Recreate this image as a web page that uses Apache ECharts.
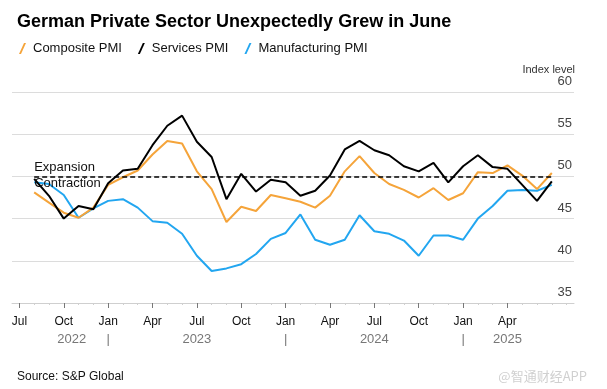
<!DOCTYPE html>
<html>
<head>
<meta charset="utf-8">
<script src="https://cdn.jsdelivr.net/npm/echarts@6/dist/echarts.min.js"></script>
<style>
html,body{margin:0;padding:0;background:#fff;}
#chart{width:607px;height:389px;}
</style>
</head>
<body>
<div id="chart"></div>
<script>
// Data months (monthly PMI readings), plotted at the end of each month
const dataMonths = ['2022-07','2022-08','2022-09','2022-10','2022-11','2022-12',
  '2023-01','2023-02','2023-03','2023-04','2023-05','2023-06','2023-07','2023-08','2023-09','2023-10','2023-11','2023-12',
  '2024-01','2024-02','2024-03','2024-04','2024-05','2024-06','2024-07','2024-08','2024-09','2024-10','2024-11','2024-12',
  '2025-01','2025-02','2025-03','2025-04','2025-05','2025-06'];
const composite = [48.1,46.9,45.7,45.1,46.3,49.0,49.9,50.7,52.6,54.2,53.9,50.6,48.5,44.6,46.4,45.9,47.8,47.4,
  47.0,46.3,47.7,50.6,52.4,50.4,49.1,48.4,47.5,48.6,47.2,48.0,50.5,50.4,51.3,50.1,48.5,50.4];
const services = [49.7,47.7,45.0,46.5,46.1,49.2,50.7,50.9,53.7,56.0,57.2,54.1,52.3,47.3,50.3,48.2,49.6,49.3,
  47.7,48.3,50.1,53.2,54.2,53.1,52.5,51.2,50.6,51.6,49.3,51.2,52.5,51.1,50.9,49.0,47.1,49.4];
const manufacturing = [49.3,49.1,47.8,45.1,46.2,47.1,47.3,46.3,44.7,44.5,43.2,40.6,38.8,39.1,39.6,40.8,42.6,43.3,
  45.5,42.5,41.9,42.5,45.4,43.5,43.2,42.4,40.6,43.0,43.0,42.5,45.0,46.5,48.3,48.4,48.3,49.0];
const threshold = 50;

// Axis: month boundaries from Jul 2022 to Aug 2025
const axisMonths = ['2022-07','2022-08','2022-09','2022-10','2022-11','2022-12',
  '2023-01','2023-02','2023-03','2023-04','2023-05','2023-06','2023-07','2023-08','2023-09','2023-10','2023-11','2023-12',
  '2024-01','2024-02','2024-03','2024-04','2024-05','2024-06','2024-07','2024-08','2024-09','2024-10','2024-11','2024-12',
  '2025-01','2025-02','2025-03','2025-04','2025-05','2025-06','2025-07','2025-08'];
const monthNames = ['Jan','Feb','Mar','Apr','May','Jun','Jul','Aug','Sep','Oct','Nov','Dec'];
const quarterTicks = ['2022-07','2022-10','2023-01','2023-04','2023-07','2023-10',
  '2024-01','2024-04','2024-07','2024-10','2025-01','2025-04'];
const yearLabels = {'2022-10':'2022','2023-07':'2023','2024-07':'2024','2025-04':'2025'};
const yearSeparators = ['2023-01','2024-01','2025-01'];

// each reading sits at the start of the following month (end of its month)
const endOfMonth = m => axisMonths[axisMonths.indexOf(m) + 1];
const toPairs = arr => dataMonths.map((m, i) => [endOfMonth(m), arr[i]]);

const FONT = '"Liberation Sans", Arial, sans-serif';
const chart = echarts.init(document.getElementById('chart'), null, {renderer:'canvas'});

const baseX = {
  type:'category', data: axisMonths, boundaryGap:true, gridIndex:0, position:'bottom'
};
const isQuarter = (idx, v) => quarterTicks.includes(v);

chart.setOption({
  animation:false,
  backgroundColor:'#fff',
  textStyle:{fontFamily:FONT},
  title:[{
    text:'German Private Sector Unexpectedly Grew in June',
    left:12, top:8,
    textStyle:{fontFamily:FONT, fontSize:18, fontWeight:'bold', color:'#000'}
  },{
    text:'Source: S&P Global',
    left:12, top:366,
    textStyle:{fontFamily:FONT, fontSize:12, fontWeight:'normal', color:'#111'}
  },{
    text:'@智通财经APP',
    right:15, top:365,
    textStyle:{fontFamily:'"Noto Sans CJK SC", sans-serif', fontSize:13, fontWeight:'normal', color:'#d0d0d0'}
  }],
  legend:{
    left:14, top:37, itemGap:16, itemWidth:7, itemHeight:11,
    icon:'path://M0,11 L2,11 L7,0 L5,0 Z',
    textStyle:{fontFamily:FONT, fontSize:13, color:'#111', padding:[0,0,0,2]},
    data:['Composite PMI','Services PMI','Manufacturing PMI']
  },
  grid:{left:12, right:33, top:92, bottom:86, containLabel:false},
  xAxis:[
    Object.assign({}, baseX, {
      axisLine:{show:true, lineStyle:{color:'#cfcfcf', width:1}},
      axisTick:{show:true, interval:0, alignWithLabel:true, length:2, lineStyle:{color:'#cfcfcf'}},
      axisLabel:{show:false}, splitLine:{show:false}
    }),
    Object.assign({}, baseX, {
      axisLine:{show:false},
      axisTick:{show:true, interval:isQuarter, alignWithLabel:true, length:5, lineStyle:{color:'#777'}},
      axisLabel:{show:true, interval:isQuarter, margin:13, hideOverlap:false,
        fontFamily:FONT, fontSize:12, color:'#111',
        formatter: v => monthNames[parseInt(v.slice(5),10)-1]},
      splitLine:{show:false}
    }),
    Object.assign({}, baseX, {
      offset:17,
      axisLine:{show:false}, axisTick:{show:false}, splitLine:{show:false},
      axisLabel:{show:true, hideOverlap:false, margin:13,
        interval:(idx, v) => (yearLabels[v] !== undefined) || yearSeparators.includes(v),
        formatter: v => yearLabels[v] !== undefined ? (v === '2022-10' ? '{s|' + yearLabels[v] + '}' : yearLabels[v]) : '|',
        fontFamily:FONT, fontSize:13, color:'#777',
        rich:{s:{fontFamily:FONT, fontSize:13, color:'#777', padding:[0,0,0,16]}}
      }
    })
  ],
  yAxis:{
    type:'value', position:'right', min:35, max:60, interval:5,
    name:'Index level', nameLocation:'end', nameGap:17,
    nameTextStyle:{fontFamily:FONT, fontSize:11, color:'#333', align:'right', verticalAlign:'bottom', padding:[0,-1,0,0]},
    axisLine:{show:false}, axisTick:{show:false},
    axisLabel:{inside:true, verticalAlign:'bottom', align:'right', margin:2, padding:[0,0,4,0],
      fontFamily:FONT, fontSize:13, color:'#444'},
    splitLine:{show:true, lineStyle:{color:'#dcdcdc', width:1}}
  },
  series:[
    {
      name:'Composite PMI', type:'line', xAxisIndex:0, data: toPairs(composite),
      showSymbol:false, symbol:'none', color:'#f5a43a', lineStyle:{width:2, color:'#f5a43a'}, z:3,
      markLine:{
        silent:true, symbol:'none',
        data:[
          [{coord:[endOfMonth(dataMonths[0]), threshold],
            lineStyle:{color:'#000', type:[5,3], width:1.6},
            label:{show:true, position:'insideStartTop', formatter:'Expansion', distance:[0,2],
              fontFamily:FONT, fontSize:13, color:'#111'}},
           {coord:[endOfMonth(dataMonths[dataMonths.length-1]), threshold]}],
          [{coord:[endOfMonth(dataMonths[0]), threshold],
            lineStyle:{color:'rgba(0,0,0,0)', width:0},
            label:{show:true, position:'insideStartBottom', formatter:'Contraction', distance:[0,1],
              fontFamily:FONT, fontSize:13, color:'#111'}},
           {coord:[endOfMonth(dataMonths[dataMonths.length-1]), threshold]}]
        ]
      }
    },
    {
      name:'Services PMI', type:'line', xAxisIndex:0, data: toPairs(services),
      showSymbol:false, symbol:'none', color:'#000', lineStyle:{width:2, color:'#000'}, z:4
    },
    {
      name:'Manufacturing PMI', type:'line', xAxisIndex:0, data: toPairs(manufacturing),
      showSymbol:false, symbol:'none', color:'#22a6f0', lineStyle:{width:2, color:'#22a6f0'}, z:2
    }
  ]
});
</script>
</body>
</html>
